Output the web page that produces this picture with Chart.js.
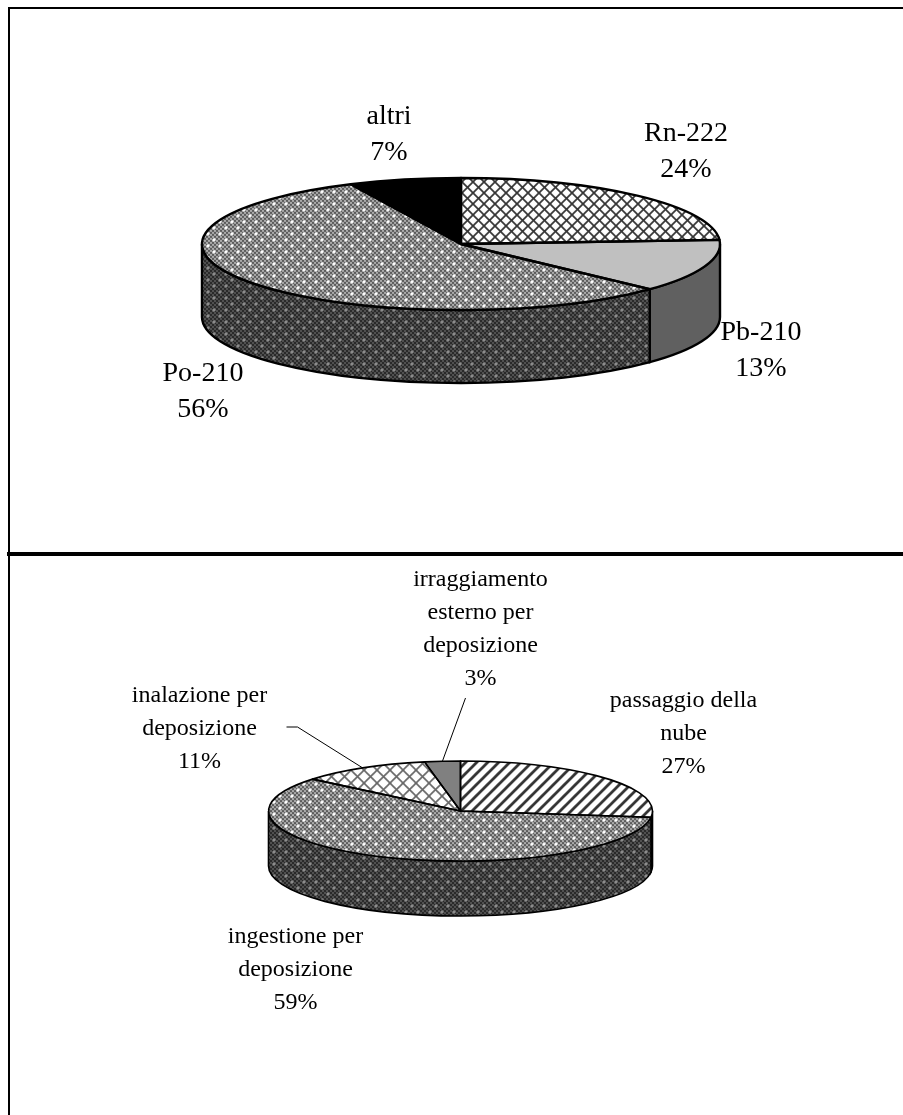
<!DOCTYPE html>
<html>
<head>
<meta charset="utf-8">
<style>
  html, body { margin: 0; padding: 0; background: #fff; }
  #page { position: relative; width: 903px; height: 1115px; overflow: hidden; }
  canvas { position: absolute; left: 0; }
  #sourceChart { top: 0; }
  #pathwayChart { top: 554px; }
  .rule { position: absolute; background: #000; }
</style>
<script src="https://cdn.jsdelivr.net/npm/chart.js@4"></script>
</head>
<body>
<div id="page">
  <canvas id="sourceChart" width="903" height="554"></canvas>
  <canvas id="pathwayChart" width="903" height="561"></canvas>
  <div class="rule" style="left:8px;top:7px;width:895px;height:2px"></div>
  <div class="rule" style="left:8px;top:7px;width:2px;height:1108px"></div>
  <div class="rule" style="left:7px;top:552px;width:896px;height:4px"></div>
</div>
<script>
const sourceLabels = ['Rn-222', 'Pb-210', 'Po-210', 'altri'];
const sourceValues = [24, 13, 56, 7];

const pathwayLabels = ['passaggio della\nnube', 'ingestione per\ndeposizione', 'inalazione per\ndeposizione', 'irraggiamento\nesterno per\ndeposizione'];
const pathwayValues = [27, 59, 11, 3];

// small tiles used as slice fills
function makeTile(w, h, paint) {
    const tile = document.createElement('canvas');
    tile.width = w;
    tile.height = h;
    paint(tile.getContext('2d'), w, h);
    return tile;
}

function latticeTile(size, line, width) {
    return makeTile(size, size, (c, w, h) => {
        c.fillStyle = '#fff';
        c.fillRect(0, 0, w, h);
        c.strokeStyle = line;
        c.lineWidth = width;
        c.beginPath();
        c.moveTo(-1, -1); c.lineTo(w + 1, h + 1);
        c.moveTo(-1, h + 1); c.lineTo(w + 1, -1);
        c.stroke();
    });
}

function stripeTile() {
    return makeTile(11, 11, (c, w, h) => {
        c.fillStyle = '#fff';
        c.fillRect(0, 0, w, h);
        c.strokeStyle = '#333';
        c.lineWidth = 2.8;
        c.beginPath();
        c.moveTo(-w, 2 * h); c.lineTo(2 * w, -h);
        c.moveTo(-w, h); c.lineTo(w, -h);
        c.moveTo(0, 2 * h); c.lineTo(2 * w, 0);
        c.stroke();
    });
}

// 2px checker with a small lighter fleck, staggered
function dotTile(dark, light, fleck) {
    return makeTile(12, 12, (c, w, h) => {
        c.fillStyle = light;
        c.fillRect(0, 0, w, h);
        c.fillStyle = dark;
        for (let y = 0; y < h; y += 2) {
            for (let x = 0; x < w; x += 2) {
                if ((x + y) % 4 === 0) c.fillRect(x, y, 2, 2);
            }
        }
        c.fillStyle = fleck;
        [[2, 2], [8, 8]].forEach(([x, y]) => {
            c.fillRect(x + 1, y + 1, 2, 2);
            c.globalAlpha = 0.5;
            c.fillRect(x, y + 1, 4, 2);
            c.fillRect(x + 1, y, 2, 4);
            c.globalAlpha = 1;
        });
    });
}

function pattern(ctx, tile, yScale) {
    const p = ctx.createPattern(tile, 'repeat');
    // the slices are drawn squashed, keep the tile square on screen
    p.setTransform(new DOMMatrix().scale(1, 1 / yScale));
    return p;
}

function slicePath(ctx, arc, ry) {
    ctx.beginPath();
    ctx.moveTo(arc.x, arc.y);
    ctx.ellipse(arc.x, arc.y, arc.outerRadius, ry, 0, arc.startAngle, arc.endAngle);
    ctx.closePath();
}

const pie3d = {
    id: 'pie3d',
    beforeDatasetDraw(chart) {
        const o = chart.options.plugins.pie3d;
        const ctx = chart.ctx;
        const arcs = chart.getDatasetMeta(0).data;
        // side wall: only the front half of the rim, 0 to PI on the ellipse
        arcs.forEach((arc, i) => {
            const start = Math.max(arc.startAngle, 0);
            const end = Math.min(arc.endAngle, Math.PI);
            if (end <= start) return;
            ctx.beginPath();
            ctx.ellipse(arc.x, arc.y, arc.outerRadius, o.ry, 0, start, end);
            ctx.ellipse(arc.x, arc.y + o.depth, arc.outerRadius, o.ry, 0, end, start, true);
            ctx.closePath();
            ctx.fillStyle = o.sideFills[i];
            ctx.fill();
            ctx.strokeStyle = '#000';
            ctx.lineWidth = o.line;
            ctx.stroke();
        });
        ctx.save();
        ctx.translate(0, arcs[0].y);
        ctx.scale(1, o.ry / arcs[0].outerRadius);
        ctx.translate(0, -arcs[0].y);
    },
    afterDatasetDraw(chart) {
        const o = chart.options.plugins.pie3d;
        const ctx = chart.ctx;
        ctx.restore();
        const arcs = chart.getDatasetMeta(0).data;
        ctx.strokeStyle = '#000';
        ctx.lineWidth = o.line;
        ctx.lineJoin = 'round';
        arcs.forEach(arc => {
            slicePath(ctx, arc, o.ry);
            ctx.stroke();
        });

        // leader lines
        ctx.lineWidth = 1;
        o.leaders.forEach(l => {
            const arc = arcs[l.index];
            const mid = (arc.startAngle + arc.endAngle) / 2;
            ctx.beginPath();
            ctx.moveTo(arc.x + arc.outerRadius * Math.cos(mid), arc.y + o.ry * Math.sin(mid));
            l.bends.forEach(b => ctx.lineTo(arc.x + b[0], arc.y + b[1]));
            ctx.stroke();
        });

        // slice labels, name above percentage
        const labels = chart.data.labels;
        const values = chart.data.datasets[0].data;
        ctx.fillStyle = '#000';
        ctx.font = o.fontSize + 'px "Liberation Serif"';
        ctx.textAlign = 'center';
        ctx.textBaseline = 'alphabetic';
        labels.forEach((label, i) => {
            const pos = o.labelAt[i];
            const lines = label.split('\n').concat(values[i] + '%');
            lines.forEach((line, k) => {
                ctx.fillText(line, arcs[i].x + pos[0], arcs[i].y + pos[1] + k * o.lineHeight);
            });
        });
    }
};

function makePie(id, labels, values, fills, opts) {
    const ctx = document.getElementById(id).getContext('2d');
    const yScale = opts.ry / opts.rx;
    return new Chart(ctx, {
        type: 'pie',
        data: {
            labels: labels,
            datasets: [{
                data: values,
                backgroundColor: fills.map(f => typeof f === 'string' ? f : pattern(ctx, f, yScale)),
                borderWidth: 0
            }]
        },
        options: {
            responsive: false,
            animation: false,
            radius: opts.rx,
            layout: { padding: opts.padding },
            plugins: {
                legend: { display: false },
                tooltip: { enabled: false },
                pie3d: {
                    ry: opts.ry,
                    depth: opts.depth,
                    line: opts.line,
                    sideFills: opts.sideFills.map(f => typeof f === 'string' ? f : ctx.createPattern(f, 'repeat')),
                    labelAt: opts.labelAt,
                    leaders: opts.leaders || [],
                    fontSize: opts.fontSize,
                    lineHeight: opts.lineHeight
                }
            }
        },
        plugins: [pie3d]
    });
}

const dotsTop = dotTile('#5c5c5c', '#aaaaaa', '#fff');
const dotsSide = dotTile('#2a2a2a', '#505050', '#8c8c8c');

makePie('sourceChart', sourceLabels, sourceValues,
    [latticeTile(11, '#333', 1.7), '#c0c0c0', dotsTop, '#000'],
    {
        rx: 259, ry: 66, depth: 73, line: 2.4,
        padding: { left: 19, bottom: 66 },
        sideFills: ['#606060', '#606060', dotsSide, '#000'],
        labelAt: [[225, -103], [300, 96], [-258, 137], [-72, -120]],
        fontSize: 28, lineHeight: 36
    });

makePie('pathwayChart', pathwayLabels, pathwayValues,
    [stripeTile(), dotsTop, latticeTile(13, '#666', 1.6), '#808080'],
    {
        rx: 192, ry: 50, depth: 55, line: 1.6,
        padding: { left: 18, bottom: 47 },
        sideFills: [dotsSide, dotsSide, '#000', '#000'],
        labelAt: [[223, -104], [-165, 132], [-261, -109], [20, -225]],
        leaders: [
            { index: 2, bends: [[-163, -84], [-174, -84]] },
            { index: 3, bends: [[5, -113]] }
        ],
        fontSize: 24, lineHeight: 33
    });
</script>
</body>
</html>
